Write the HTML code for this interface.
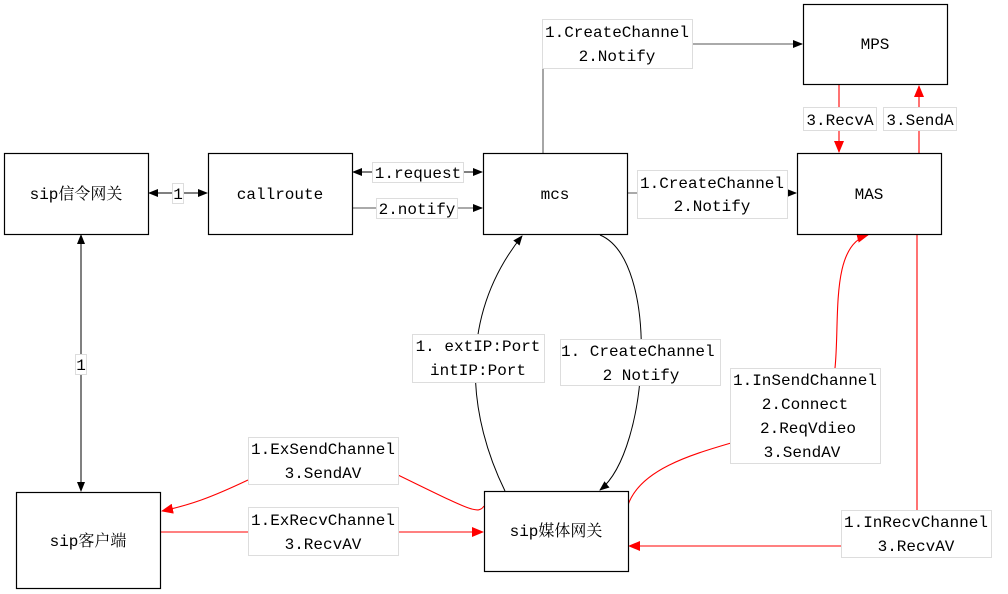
<!DOCTYPE html>
<html><head><meta charset="utf-8"><style>
html,body{margin:0;padding:0;background:#fff;}
svg{display:block;}
text{font-family:"Liberation Mono","Noto Serif CJK SC",monospace;font-size:16px;fill:#000;}
.b{fill:#fff;stroke:#000;stroke-width:1.2;}
.l{fill:#fff;stroke:#ddd;stroke-width:1;}
.k{fill:none;stroke:#000;stroke-width:1;}
.g{fill:none;stroke:#777;stroke-width:1.3;}
.r{fill:none;stroke:#f00;stroke-width:1.1;}
</style></head><body>
<svg width="1008" height="594" viewBox="0 0 1008 594">
<defs>
<marker id="ak" markerWidth="10" markerHeight="10" refX="9" refY="5" orient="auto" markerUnits="userSpaceOnUse"><path d="M0,1 L10,5 L0,9z" fill="#000"/></marker>
<marker id="akb" markerWidth="10" markerHeight="10" refX="1" refY="5" orient="auto" markerUnits="userSpaceOnUse"><path d="M10,1 L0,5 L10,9z" fill="#000"/></marker>
<marker id="ar" markerWidth="12" markerHeight="12" refX="11" refY="6" orient="auto" markerUnits="userSpaceOnUse"><path d="M0,1 L12,6 L0,11z" fill="#f00"/></marker>
</defs>

<!-- connectors -->
<line class="k" x1="149" y1="193" x2="207" y2="193" marker-start="url(#akb)" marker-end="url(#ak)"/>
<line class="k" x1="353" y1="172" x2="482" y2="172" marker-start="url(#akb)" marker-end="url(#ak)"/>
<line class="g" x1="353" y1="208" x2="482" y2="208" marker-end="url(#ak)"/>
<polyline class="g" points="543,153 543,44 802,44" marker-end="url(#ak)"/>
<line class="g" x1="628" y1="193" x2="796" y2="193" marker-end="url(#ak)"/>
<line class="k" x1="81" y1="235" x2="81" y2="491" marker-start="url(#akb)" marker-end="url(#ak)"/>
<line class="r" x1="839" y1="85" x2="839" y2="152" marker-end="url(#ar)"/>
<line class="r" x1="919" y1="153" x2="919" y2="86" marker-end="url(#ar)"/>
<path class="k" d="M505,491 C470,420 455,320 522,236" marker-end="url(#ak)"/>
<path class="k" d="M600,235 C660,260 650,450 600,490" marker-end="url(#ak)"/>
<path class="r" d="M628,505 C640,470 690,455 731,443"/>
<path class="r" d="M835,368 C840,320 830,245 868,235" marker-end="url(#ar)"/>
<polyline class="r" points="917,235 917,546 629,546" marker-end="url(#ar)"/>
<path class="r" d="M484,506 C478,515 470,510 398,475"/>
<path class="r" d="M248,480 C210,498 190,505 162,511" marker-end="url(#ar)"/>
<line class="r" x1="161" y1="532" x2="483" y2="532" marker-end="url(#ar)"/>

<!-- boxes -->
<rect class="b" x="4.5" y="153.5" width="144" height="81"/>
<text x="76" y="199" text-anchor="middle">sip信令网关</text>
<rect class="b" x="208.5" y="153.5" width="144" height="81"/>
<text x="280" y="199" text-anchor="middle">callroute</text>
<rect class="b" x="483.5" y="153.5" width="144" height="81"/>
<text x="555" y="199" text-anchor="middle">mcs</text>
<rect class="b" x="797.5" y="153.5" width="144" height="81"/>
<text x="869" y="199" text-anchor="middle">MAS</text>
<rect class="b" x="803.5" y="4.5" width="144" height="80"/>
<text x="875" y="49" text-anchor="middle">MPS</text>
<rect class="b" x="16.5" y="492.5" width="144" height="96"/>
<text x="88" y="546" text-anchor="middle">sip客户端</text>
<rect class="b" x="484.5" y="491.5" width="144" height="80"/>
<text x="556" y="536" text-anchor="middle">sip媒体网关</text>

<!-- labels -->
<rect class="l" x="172.5" y="183.5" width="11" height="20"/><text x="178" y="199" text-anchor="middle">1</text>
<rect class="l" x="372.5" y="162.5" width="91" height="20"/><text x="418" y="178" text-anchor="middle">1.request</text>
<rect class="l" x="376.5" y="198.5" width="81" height="20"/><text x="417" y="214" text-anchor="middle">2.notify</text>
<rect class="l" x="542.5" y="19.5" width="150" height="49"/><text x="617" y="37" text-anchor="middle">1.CreateChannel</text><text x="617" y="61" text-anchor="middle">2.Notify</text>
<rect class="l" x="637.5" y="170.5" width="150" height="48"/><text x="712" y="188" text-anchor="middle">1.CreateChannel</text><text x="712" y="211" text-anchor="middle">2.Notify</text>
<rect class="l" x="803.5" y="107.5" width="73" height="23"/><text x="840" y="125" text-anchor="middle">3.RecvA</text>
<rect class="l" x="883.5" y="107.5" width="73" height="23"/><text x="920" y="125" text-anchor="middle">3.SendA</text>
<rect class="l" x="75.5" y="354.5" width="11" height="20"/><text x="81" y="370" text-anchor="middle">1</text>
<rect class="l" x="412.5" y="334.5" width="132" height="48"/><text x="478" y="351" text-anchor="middle">1. extIP:Port</text><text x="478" y="375" text-anchor="middle">intIP:Port</text>
<rect class="l" x="560.5" y="339.5" width="160" height="46"/><text x="561" y="356">1. CreateChannel</text><text x="641" y="380" text-anchor="middle">2 Notify</text>
<rect class="l" x="730.5" y="368.5" width="150" height="95"/><text x="805" y="385" text-anchor="middle">1.InSendChannel</text><text x="805" y="409" text-anchor="middle">2.Connect</text><text x="808" y="433" text-anchor="middle">2.ReqVdieo</text><text x="802" y="457" text-anchor="middle">3.SendAV</text>
<rect class="l" x="841.5" y="510.5" width="150" height="47"/><text x="916" y="527" text-anchor="middle">1.InRecvChannel</text><text x="916" y="551" text-anchor="middle">3.RecvAV</text>
<rect class="l" x="248.5" y="437.5" width="150" height="47"/><text x="323" y="454" text-anchor="middle">1.ExSendChannel</text><text x="323" y="478" text-anchor="middle">3.SendAV</text>
<rect class="l" x="248.5" y="507.5" width="150" height="48"/><text x="323" y="525" text-anchor="middle">1.ExRecvChannel</text><text x="323" y="549" text-anchor="middle">3.RecvAV</text>
</svg>
</body></html>
